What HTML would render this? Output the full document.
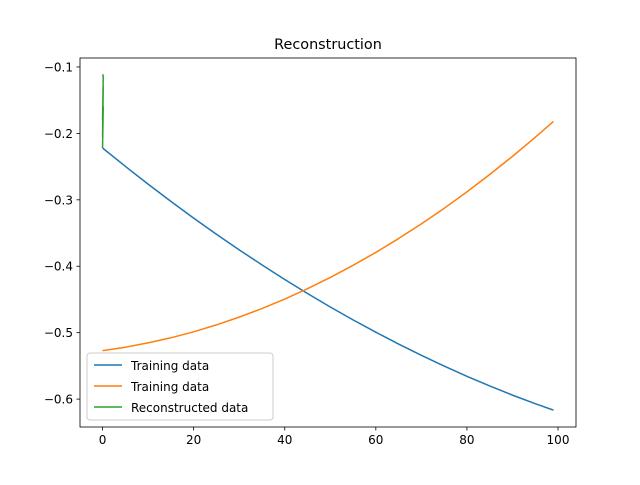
<!DOCTYPE html>
<html><head><meta charset="utf-8"><style>
body{margin:0;background:#fff}
svg text{font-family:"DejaVu Sans","Liberation Sans",sans-serif;fill:#000}
</style></head><body>
<svg id="chart" width="640" height="480" xmlns="http://www.w3.org/2000/svg">
<rect width="640" height="480" fill="#fff"/>
<text x="328" y="49" font-size="14.4" text-anchor="middle">Reconstruction</text>
<g id="marks"></g>
<rect x="80" y="58" width="496" height="369" fill="none" stroke="#000" stroke-width="0.8"/>
<g id="axes"></g>
<g>
<rect x="87" y="353" width="186" height="67" rx="3" fill="#fff" fill-opacity="0.8" stroke="#ccc"/>
<line x1="94" y1="365" x2="122" y2="365" stroke="#1f77b4" stroke-width="1.5"/>
<text x="131" y="370" font-size="12">Training data</text>
<line x1="94" y1="386" x2="122" y2="386" stroke="#ff7f0e" stroke-width="1.5"/>
<text x="131" y="391" font-size="12">Training data</text>
<line x1="94" y1="407" x2="122" y2="407" stroke="#2ca02c" stroke-width="1.5"/>
<text x="131" y="412" font-size="12">Reconstructed data</text>
</g>
</svg>
<script>
const xValues=[0,5,10,15,20,25,30,35,40,45,50,55,60,65,70,75,80,85,90,95,99];
const blueValues=[-0.222,-0.2496,-0.2764,-0.3023,-0.3275,-0.3518,-0.3753,-0.3980,-0.4199,-0.4410,-0.4613,-0.4807,-0.4993,-0.5171,-0.5341,-0.5503,-0.5657,-0.5802,-0.5940,-0.6069,-0.6166];
const orangeValues=[-0.527,-0.5219,-0.5154,-0.5077,-0.4987,-0.4883,-0.4766,-0.4637,-0.4494,-0.4338,-0.4169,-0.3986,-0.3792,-0.3583,-0.3362,-0.3128,-0.2880,-0.2619,-0.2346,-0.2059,-0.1820];
const greenX=[0,0.15,0,0.15,0,0.15,0.05];
const greenValues=[-0.222,-0.16,-0.205,-0.13,-0.18,-0.115,-0.111];
const xTicks=[0,20,40,60,80,100];
const yTicks=[-0.6,-0.5,-0.4,-0.3,-0.2,-0.1];
const X0=80,X1=576,Y0=58,Y1=427,xmin=-4.95,xmax=103.95,ymin=-0.642,ymax=-0.0865;
const sx=v=>X0+(v-xmin)/(xmax-xmin)*(X1-X0);
const sy=v=>Y1-(v-ymin)/(ymax-ymin)*(Y1-Y0);
const NS='http://www.w3.org/2000/svg';
const marks=document.getElementById('marks'),axes=document.getElementById('axes');
function line(xs,ys,color,name){
 const p=document.createElementNS(NS,'polyline');
 p.setAttribute('points',xs.map((x,i)=>sx(x).toFixed(2)+','+sy(ys[i]).toFixed(2)).join(' '));
 p.setAttribute('fill','none');p.setAttribute('stroke',color);p.setAttribute('stroke-width','1.5');
 p.setAttribute('stroke-linejoin','round');
 
 
 marks.appendChild(p);
}
line(xValues,blueValues,'#1f77b4','training-line-blue');
line(xValues,orangeValues,'#ff7f0e','training-line-orange');
line(greenX,greenValues,'#2ca02c','reconstructed-line');
xTicks.forEach(t=>{
 const x=sx(t);
 const l=document.createElementNS(NS,'line');
 l.setAttribute('x1',x);l.setAttribute('x2',x);l.setAttribute('y1',Y1);l.setAttribute('y2',Y1+3.5);l.setAttribute('stroke','#000');l.setAttribute('stroke-width','0.8');
 
 
 axes.appendChild(l);
 const tx=document.createElementNS(NS,'text');
 tx.setAttribute('x',x);tx.setAttribute('y',Y1+17);tx.setAttribute('font-size','12');tx.setAttribute('text-anchor','middle');
 tx.textContent=String(t);
 
 
 axes.appendChild(tx);
});
yTicks.forEach(t=>{
 const y=sy(t);
 const l=document.createElementNS(NS,'line');
 l.setAttribute('x1',X0-3.5);l.setAttribute('x2',X0);l.setAttribute('y1',y);l.setAttribute('y2',y);l.setAttribute('stroke','#000');l.setAttribute('stroke-width','0.8');
 
 
 axes.appendChild(l);
 const tx=document.createElementNS(NS,'text');
 tx.setAttribute('x',X0-7);tx.setAttribute('y',y+4.5);tx.setAttribute('font-size','12');tx.setAttribute('text-anchor','end');
 tx.textContent='\u2212'+Math.abs(t).toFixed(1);
 
 
 axes.appendChild(tx);
});
</script>
</body></html>
